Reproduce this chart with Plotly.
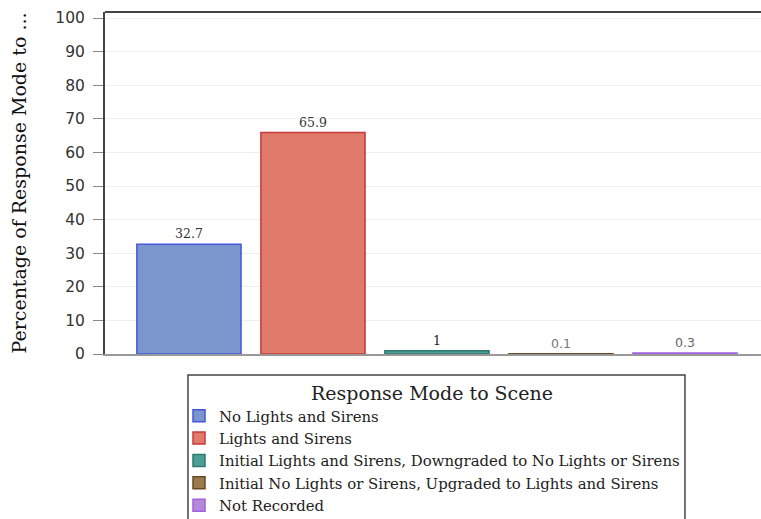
import plotly.graph_objects as go

categories = ["No Lights and Sirens", "Lights and Sirens",
              "Initial Lights and Sirens, Downgraded to No Lights or Sirens",
              "Initial No Lights or Sirens, Upgraded to Lights and Sirens",
              "Not Recorded"]
values = [32.7, 65.9, 1, 0.1, 0.3]
labels = ["32.7", "65.9", "1", "0.1", "0.3"]
fills = ["#7b96cc", "#e07b6c", "#4e9e94", "#9b7a4e", "#b48ad8"]
borders = ["#4455e0", "#c83a3a", "#2c7a70", "#6b4a22", "#a060e0"]
y_ticks = [0, 10, 20, 30, 40, 50, 60, 70, 80, 90, 100]

label_fonts = [
    dict(family="DejaVu Serif", size=12.5, color="#333"),
    dict(family="DejaVu Serif", size=12.5, color="#333"),
    dict(family="DejaVu Serif", size=12.5, color="#222"),
    dict(family="DejaVu Sans", size=12.5, color="#777"),
    dict(family="DejaVu Sans", size=12.5, color="#666"),
]

fig = go.Figure()
for i, (name, v, lab, fc, bc) in enumerate(zip(categories, values, labels, fills, borders)):
    fig.add_trace(go.Bar(
        x=[i], y=[v], name=name, width=0.84,
        marker=dict(color=fc, line=dict(color=bc, width=1.5)),
        text=[lab], textposition="outside", cliponaxis=False,
        textfont=label_fonts[i],
    ))

fig.update_layout(
    width=761, height=519,
    margin=dict(l=105, r=0, t=12, b=165, autoexpand=False),
    paper_bgcolor="white", plot_bgcolor="white",
    barmode="overlay",
    showlegend=True,
    legend=dict(
        title=dict(text="Response Mode to Scene", side="top center",
                   font=dict(family="DejaVu Serif", size=19, color="#222")),
        font=dict(family="DejaVu Serif", size=14.9, color="#222"),
        x=0.1128, xanchor="left", y=-0.061, yanchor="top",
        borderwidth=0, bgcolor="rgba(0,0,0,0)",
        orientation="v", tracegroupgap=0,
    ),
    xaxis=dict(range=[-0.677, 4.613], showticklabels=False, ticks="",
               showgrid=False, showline=True, linecolor="#999", linewidth=1.5,
               zeroline=False, fixedrange=True),
    yaxis=dict(range=[0, 101.8], tickvals=y_ticks, ticks="outside", ticklen=10,
               tickcolor="#888", ticklabelstandoff=5,
               tickfont=dict(family="DejaVu Sans", size=15.5, color="#333"),
               showgrid=True, gridcolor="#eeeeee", showline=True, linecolor="#444",
               linewidth=2, zeroline=False,
               title=dict(text="Percentage of Response Mode to ...",
                          font=dict(family="DejaVu Serif", size=19, color="#111"),
                          standoff=24)),
    shapes=[
        dict(type="line", xref="paper", yref="paper", x0=0, x1=1, y0=1, y1=1,
             line=dict(color="#444", width=2)),
        dict(type="rect", xref="paper", yref="paper", x0=0.1265, x1=0.8841,
             y0=-0.0614, y1=-0.6, line=dict(color="#444", width=1.5),
             fillcolor="rgba(0,0,0,0)"),
    ],
)

fig.write_html("out.html", config={"displayModeBar": False},
               post_script="document.body.style.margin='0px';")
